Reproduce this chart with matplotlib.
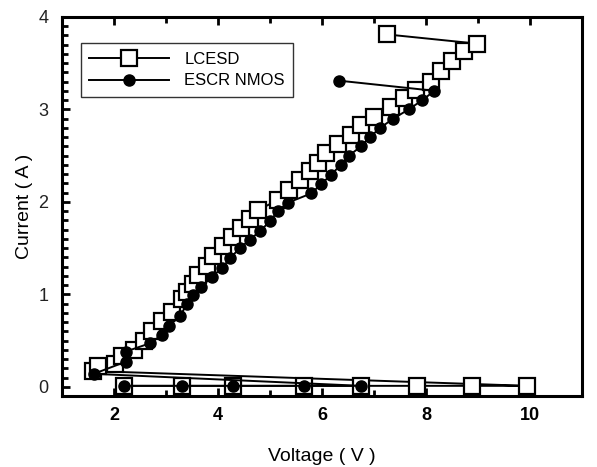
import matplotlib
matplotlib.use('Agg')
import matplotlib.pyplot as plt
from matplotlib.ticker import MultipleLocator

plt.rcParams['font.family'] = ['Liberation Sans', 'DejaVu Sans']

# LCESD: off-state sweep, snapback, then on-state branch, last point = failure
lcesd_v = [2.20, 3.30, 4.29, 5.65, 6.75, 7.82, 8.88, 9.94,
           1.60, 1.70, 2.02, 2.15, 2.38, 2.57, 2.73, 2.92, 3.11, 3.30, 3.40,
           3.52, 3.62, 3.78, 3.91, 4.10, 4.26, 4.45, 4.61, 4.77, 5.15, 5.37,
           5.57, 5.76, 5.92, 6.08, 6.30, 6.55, 6.75, 7.00, 7.32, 7.58, 7.80,
           8.09, 8.28, 8.50, 8.72, 8.98, 7.24]
lcesd_i = [0.01, 0.01, 0.01, 0.01, 0.01, 0.01, 0.01, 0.01,
           0.17, 0.22, 0.25, 0.33, 0.40, 0.50, 0.60, 0.71, 0.81, 0.95, 1.03,
           1.11, 1.21, 1.31, 1.41, 1.52, 1.62, 1.72, 1.81, 1.91, 2.02, 2.13,
           2.24, 2.33, 2.42, 2.53, 2.63, 2.72, 2.83, 2.92, 3.02, 3.12, 3.21,
           3.30, 3.41, 3.52, 3.63, 3.71, 3.81]

# ESCR NMOS
escr_v = [2.20, 3.30, 4.29, 5.65, 6.75,
          1.61, 2.22, 2.22, 2.69, 2.92, 3.05, 3.27, 3.40, 3.52, 3.68, 3.88,
          4.07, 4.23, 4.42, 4.61, 4.80, 5.00, 5.15, 5.34, 5.79, 5.98, 6.17,
          6.36, 6.52, 6.75, 6.92, 7.12, 7.37, 7.67, 7.93, 8.16, 6.32]
escr_i = [0.01, 0.01, 0.01, 0.01, 0.01,
          0.14, 0.27, 0.38, 0.47, 0.56, 0.66, 0.76, 0.90, 0.99, 1.08, 1.19,
          1.28, 1.39, 1.50, 1.59, 1.68, 1.79, 1.90, 1.99, 2.09, 2.19, 2.29,
          2.40, 2.50, 2.60, 2.70, 2.80, 2.90, 3.00, 3.10, 3.20, 3.31]

fig = plt.figure(figsize=(5.97, 4.67), dpi=100)
ax = fig.add_axes([0.104, 0.152, 0.871, 0.812])

ax.plot(lcesd_v, lcesd_i, color='black', lw=1.4, marker='s', ms=11.5,
        mfc='white', mec='black', mew=1.6, label='LCESD')
ax.plot(escr_v, escr_i, color='black', lw=1.4, marker='o', ms=8,
        mfc='black', mec='black', label='ESCR NMOS')

ax.set_xlim(1, 11)
ax.set_ylim(-0.1, 4)
ax.xaxis.set_major_locator(MultipleLocator(2))
ax.xaxis.set_minor_locator(MultipleLocator(1))
ax.yaxis.set_major_locator(MultipleLocator(1))
ax.yaxis.set_minor_locator(MultipleLocator(0.1))

for s in ax.spines.values():
    s.set_linewidth(2.2)
ax.tick_params(which='both', direction='in', top=True, right=False,
               width=2, labelsize=13)
ax.tick_params(which='major', length=6)
ax.tick_params(which='minor', length=4)
ax.tick_params(axis='x', pad=8)
ax.tick_params(axis='y', pad=10, labelcolor='#222222')
for lab in ax.get_xticklabels():
    lab.set_fontweight('bold')

ax.set_xlabel('Voltage ( V )', fontsize=14, labelpad=17)
ax.set_ylabel('Current ( A )', fontsize=14, labelpad=4)

leg = ax.legend(loc='upper left', bbox_to_anchor=(0.036, 0.93), fontsize=12,
                frameon=True, fancybox=False, edgecolor='black',
                handlelength=4.8, handletextpad=0.9, borderpad=0.5,
                labelspacing=0.4, borderaxespad=0)
leg.get_frame().set_linewidth(1)

fig.savefig('out.png', dpi=100)
